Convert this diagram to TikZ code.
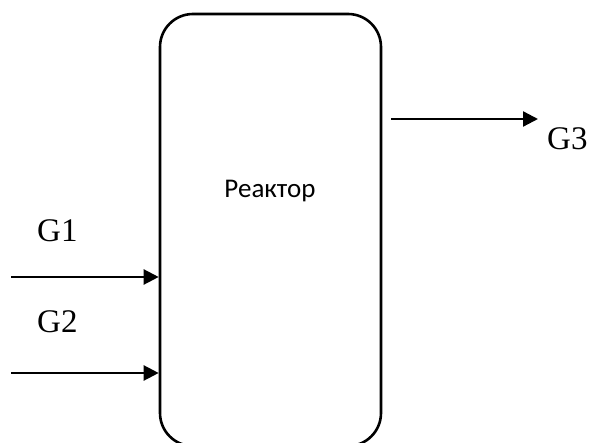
\documentclass[tikz,border=0pt]{standalone}
\usepackage{fontspec}
\setmainfont{Liberation Serif}
\newfontfamily\calfont{Carlito}
\usetikzlibrary{arrows.meta}
\begin{document}
\begin{tikzpicture}[x=1pt,y=-1pt,
  flow/.style={line width=2.3pt,-{Triangle[length=15pt,width=15pt]}},
  lbl/.style={font=\fontsize{33}{33}\selectfont,inner sep=0pt,anchor=base west}]
\useasboundingbox (0,0) rectangle (592,443);
\node[draw,line width=2.6pt,rounded corners=33pt,minimum width=221pt,minimum height=432pt,inner sep=0pt] (reactor) at (270.5,230) {};
\node[font=\calfont\fontsize{27}{27}\selectfont,inner sep=0pt,anchor=base] (rtext) at (270,198) {Реактор};
\coordinate (g1s) at (11,277);
\coordinate (g2s) at (11,373);
\coordinate (g3e) at (538,119);
\draw[flow] (g1s) -- (g1s -| reactor.west);
\draw[flow] (g2s) -- (g2s -| reactor.west);
\draw[flow] (g3e -| reactor.east) ++(9,0) -- (g3e);
\node[lbl] (g1) at (37,242) {G1};
\node[lbl] (g2) at (37,333) {G2};
\node[lbl] (g3) at (547,150) {G3};
\end{tikzpicture}
\end{document}
